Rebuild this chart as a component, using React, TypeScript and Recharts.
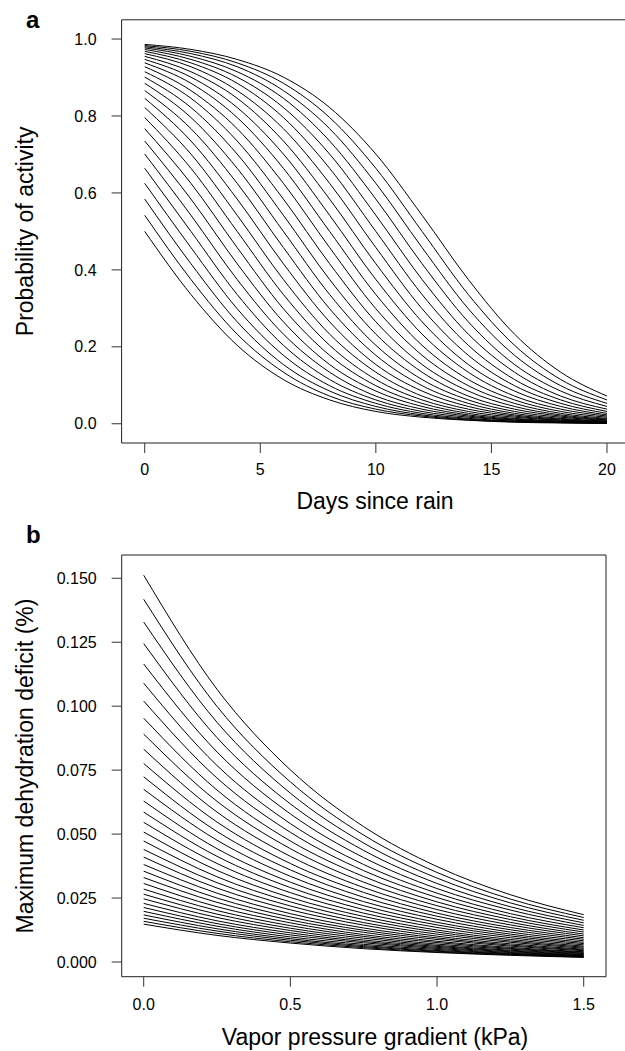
import { Line, LineChart, ReferenceArea, XAxis, YAxis } from "recharts";

// panel a: probability of activity vs days since rain
const days = [0, 2, 4, 6, 8, 10, 12, 14, 16, 18, 20];
const dayTicks = [0, 5, 10, 15, 20];
const probTicks = [0, 0.2, 0.4, 0.6, 0.8, 1.0];

// one row per curve, values at each entry of `days`
const activityCurves: number[][] = [
  [0.5, 0.336, 0.204, 0.115, 0.062, 0.032, 0.017, 0.009, 0.004, 0.002, 0.001],
  [0.542, 0.375, 0.233, 0.134, 0.072, 0.038, 0.02, 0.01, 0.005, 0.003, 0.001],
  [0.584, 0.416, 0.265, 0.154, 0.085, 0.045, 0.023, 0.012, 0.006, 0.003, 0.002],
  [0.625, 0.458, 0.299, 0.178, 0.099, 0.053, 0.027, 0.014, 0.007, 0.004, 0.002],
  [0.664, 0.5, 0.336, 0.204, 0.115, 0.062, 0.032, 0.017, 0.009, 0.004, 0.002],
  [0.701, 0.542, 0.375, 0.233, 0.134, 0.072, 0.038, 0.02, 0.01, 0.005, 0.003],
  [0.735, 0.584, 0.416, 0.265, 0.154, 0.085, 0.045, 0.023, 0.012, 0.006, 0.003],
  [0.767, 0.625, 0.458, 0.299, 0.178, 0.099, 0.053, 0.027, 0.014, 0.007, 0.004],
  [0.796, 0.664, 0.5, 0.336, 0.204, 0.115, 0.062, 0.032, 0.017, 0.009, 0.004],
  [0.822, 0.701, 0.542, 0.375, 0.233, 0.134, 0.072, 0.038, 0.02, 0.01, 0.005],
  [0.846, 0.735, 0.584, 0.416, 0.265, 0.154, 0.085, 0.045, 0.023, 0.012, 0.006],
  [0.866, 0.767, 0.625, 0.458, 0.299, 0.178, 0.099, 0.053, 0.027, 0.014, 0.007],
  [0.885, 0.796, 0.664, 0.5, 0.336, 0.204, 0.115, 0.062, 0.032, 0.017, 0.009],
  [0.901, 0.822, 0.701, 0.542, 0.375, 0.233, 0.134, 0.072, 0.038, 0.02, 0.01],
  [0.915, 0.846, 0.735, 0.584, 0.416, 0.265, 0.154, 0.085, 0.045, 0.023, 0.012],
  [0.928, 0.866, 0.767, 0.625, 0.458, 0.299, 0.178, 0.099, 0.053, 0.027, 0.014],
  [0.938, 0.885, 0.796, 0.664, 0.5, 0.336, 0.204, 0.115, 0.062, 0.032, 0.017],
  [0.947, 0.901, 0.822, 0.701, 0.542, 0.375, 0.233, 0.134, 0.072, 0.038, 0.02],
  [0.955, 0.915, 0.846, 0.735, 0.584, 0.416, 0.265, 0.154, 0.085, 0.045, 0.023],
  [0.962, 0.928, 0.866, 0.767, 0.625, 0.458, 0.299, 0.178, 0.099, 0.053, 0.027],
  [0.968, 0.938, 0.885, 0.796, 0.664, 0.5, 0.336, 0.204, 0.115, 0.062, 0.032],
  [0.973, 0.947, 0.901, 0.822, 0.701, 0.542, 0.375, 0.233, 0.134, 0.072, 0.038],
  [0.977, 0.955, 0.915, 0.846, 0.735, 0.584, 0.416, 0.265, 0.154, 0.085, 0.045],
  [0.98, 0.962, 0.928, 0.866, 0.767, 0.625, 0.458, 0.299, 0.178, 0.099, 0.053],
  [0.983, 0.968, 0.938, 0.885, 0.796, 0.664, 0.5, 0.336, 0.204, 0.115, 0.062],
  [0.986, 0.973, 0.947, 0.901, 0.822, 0.701, 0.542, 0.375, 0.233, 0.134, 0.072],
];

// panel b: maximum dehydration deficit vs vapor pressure gradient
const vpg = [0, 0.25, 0.5, 0.75, 1.0, 1.25, 1.5];
const vpgTicks = [0, 0.5, 1.0, 1.5];
const deficitTicks = [0, 0.025, 0.05, 0.075, 0.1, 0.125, 0.15];

const deficitCurves: number[][] = [
  [0.1512, 0.1066, 0.0751, 0.0529, 0.0373, 0.0263, 0.0185],
  [0.1418, 0.0999, 0.0704, 0.0496, 0.035, 0.0246, 0.0174],
  [0.1329, 0.0937, 0.066, 0.0465, 0.0328, 0.0231, 0.0163],
  [0.1245, 0.0877, 0.0618, 0.0436, 0.0307, 0.0216, 0.0153],
  [0.1165, 0.0821, 0.0579, 0.0408, 0.0287, 0.0203, 0.0143],
  [0.109, 0.0768, 0.0541, 0.0381, 0.0269, 0.0189, 0.0134],
  [0.102, 0.0719, 0.0507, 0.0357, 0.0252, 0.0177, 0.0125],
  [0.0953, 0.0672, 0.0473, 0.0334, 0.0235, 0.0166, 0.0117],
  [0.0891, 0.0628, 0.0443, 0.0312, 0.022, 0.0155, 0.0109],
  [0.0832, 0.0586, 0.0413, 0.0291, 0.0205, 0.0145, 0.0102],
  [0.0776, 0.0547, 0.0385, 0.0272, 0.0191, 0.0135, 0.0095],
  [0.0724, 0.051, 0.036, 0.0253, 0.0179, 0.0126, 0.0089],
  [0.0675, 0.0476, 0.0335, 0.0236, 0.0167, 0.0117, 0.0083],
  [0.0629, 0.0443, 0.0312, 0.022, 0.0155, 0.0109, 0.0077],
  [0.0586, 0.0413, 0.0291, 0.0205, 0.0145, 0.0102, 0.0072],
  [0.0546, 0.0385, 0.0271, 0.0191, 0.0135, 0.0095, 0.0067],
  [0.0508, 0.0358, 0.0252, 0.0178, 0.0125, 0.0088, 0.0062],
  [0.0473, 0.0333, 0.0235, 0.0166, 0.0117, 0.0082, 0.0058],
  [0.044, 0.031, 0.0219, 0.0154, 0.0109, 0.0077, 0.0054],
  [0.041, 0.0289, 0.0204, 0.0144, 0.0101, 0.0071, 0.005],
  [0.0381, 0.0269, 0.0189, 0.0133, 0.0094, 0.0066, 0.0047],
  [0.0355, 0.025, 0.0176, 0.0124, 0.0088, 0.0062, 0.0044],
  [0.033, 0.0233, 0.0164, 0.0116, 0.0081, 0.0057, 0.004],
  [0.0307, 0.0216, 0.0153, 0.0107, 0.0076, 0.0053, 0.0038],
  [0.0285, 0.0201, 0.0142, 0.01, 0.007, 0.005, 0.0035],
  [0.0265, 0.0187, 0.0132, 0.0093, 0.0065, 0.0046, 0.0033],
  [0.0247, 0.0174, 0.0123, 0.0086, 0.0061, 0.0043, 0.003],
  [0.0229, 0.0161, 0.0114, 0.008, 0.0057, 0.004, 0.0028],
  [0.0213, 0.015, 0.0106, 0.0075, 0.0053, 0.0037, 0.0026],
  [0.0198, 0.014, 0.0098, 0.0069, 0.0049, 0.0034, 0.0024],
  [0.0184, 0.013, 0.0091, 0.0064, 0.0045, 0.0032, 0.0023],
  [0.0171, 0.0121, 0.0085, 0.006, 0.0042, 0.003, 0.0021],
  [0.0159, 0.0112, 0.0079, 0.0056, 0.0039, 0.0028, 0.0019],
  [0.0148, 0.0104, 0.0074, 0.0052, 0.0037, 0.0026, 0.0018],
];

const FONT = "'Liberation Sans', Arial, Helvetica, sans-serif";
const tickStyle = { fill: "#000", fontSize: 16, fontFamily: FONT };

function toRows(xs: number[], curves: number[][]) {
  return xs.map((x, k) => {
    const row: Record<string, number> = { x };
    curves.forEach((c, i) => {
      row[`c${i}`] = c[k];
    });
    return row;
  });
}

const activityData = toRows(days, activityCurves);
const deficitData = toRows(vpg, deficitCurves);

function ActivityPanel() {
  return (
    <LineChart
      width={640}
      height={480}
      data={activityData}
      margin={{ top: 19.8, right: 9.9, bottom: 7, left: 61.6 }}
    >
      <XAxis
        dataKey="x"
        type="number"
        domain={[-1, 21]}
        ticks={dayTicks}
        allowDataOverflow
        axisLine={false}
        tickSize={10}
        tickMargin={11}
        tickLine={{ stroke: "#333" }}
        tick={tickStyle}
        height={30}
      />
      <YAxis
        type="number"
        domain={[-0.05, 1.05]}
        ticks={probTicks}
        allowDataOverflow
        axisLine={false}
        tickSize={10}
        tickMargin={15}
        tickLine={{ stroke: "#333" }}
        tick={tickStyle}
        tickFormatter={(v) => Number(v).toFixed(1)}
        width={60}
      />
      <ReferenceArea x1={-1} x2={21} y1={-0.05} y2={1.05} fill="none" stroke="#222" strokeWidth={1} fillOpacity={0} />
      {activityCurves.map((_, i) => (
        <Line
          key={i}
          dataKey={`c${i}`}
          type="monotone"
          stroke="#000"
          strokeWidth={1}
          dot={false}
          activeDot={false}
          isAnimationActive={false}
        />
      ))}
    </LineChart>
  );
}

function DeficitPanel() {
  return (
    <LineChart
      width={625}
      height={500}
      data={deficitData}
      margin={{ top: 35, right: 19, bottom: 13.3, left: 61.7 }}
    >
      <XAxis
        dataKey="x"
        type="number"
        domain={[-0.075, 1.576]}
        ticks={vpgTicks}
        allowDataOverflow
        axisLine={false}
        tickSize={10}
        tickMargin={12}
        tickLine={{ stroke: "#333" }}
        tick={tickStyle}
        tickFormatter={(v) => Number(v).toFixed(1)}
        height={30}
      />
      <YAxis
        type="number"
        domain={[-0.00575, 0.1591]}
        ticks={deficitTicks}
        allowDataOverflow
        axisLine={false}
        tickSize={10}
        tickMargin={15}
        tickLine={{ stroke: "#333" }}
        tick={tickStyle}
        tickFormatter={(v) => Number(v).toFixed(3)}
        width={60}
      />
      <ReferenceArea
        x1={-0.075}
        x2={1.576}
        y1={-0.00575}
        y2={0.1591}
        fill="none"
        stroke="#222"
        strokeWidth={1}
        fillOpacity={0}
      />
      {deficitCurves.map((_, i) => (
        <Line
          key={i}
          dataKey={`c${i}`}
          type="monotone"
          stroke="#000"
          strokeWidth={1}
          dot={false}
          activeDot={false}
          isAnimationActive={false}
        />
      ))}
    </LineChart>
  );
}

export default function App() {
  return (
    <div
      style={{
        position: "absolute",
        left: 0,
        top: 0,
        width: 625,
        height: 1051,
        overflow: "hidden",
        background: "#fff",
        fontFamily: FONT,
      }}
    >
      <div style={{ position: "absolute", left: 0, top: 0 }}>
        <ActivityPanel />
      </div>
      <div style={{ position: "absolute", left: 0, top: 520 }}>
        <DeficitPanel />
      </div>
      <svg
        width={625}
        height={1051}
        style={{ position: "absolute", left: 0, top: 0, pointerEvents: "none" }}
        fontFamily={FONT}
      >
        <text x={26} y={28} fontSize={24} fontWeight="bold">
          a
        </text>
        <text x={26} y={543} fontSize={24} fontWeight="bold">
          b
        </text>
        <text x={33} y={231.4} fontSize={23} textAnchor="middle" transform="rotate(-90 33 231.4)">
          Probability of activity
        </text>
        <text x={375} y={509} fontSize={23} textAnchor="middle">
          Days since rain
        </text>
        <text x={33} y={766} fontSize={23} textAnchor="middle" transform="rotate(-90 33 766)">
          Maximum dehydration deficit (%)
        </text>
        <text x={375} y={1045} fontSize={23} textAnchor="middle">
          Vapor pressure gradient (kPa)
        </text>
      </svg>
    </div>
  );
}
